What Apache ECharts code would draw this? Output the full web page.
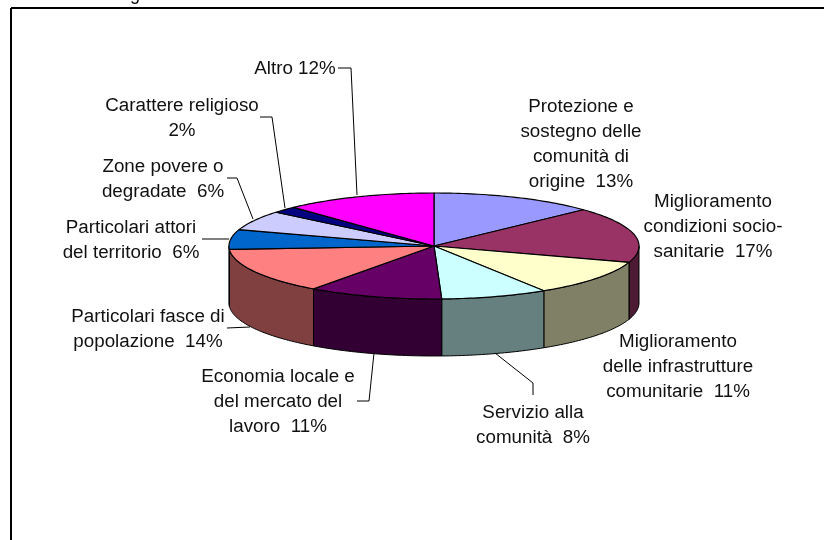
<!DOCTYPE html>
<html>
<head>
<meta charset="utf-8">
<style>
  html, body { margin: 0; padding: 0; background: #fff; }
  #chart { width: 824px; height: 540px; }
</style>
</head>
<body>
<div id="chart"></div>
<script src="https://cdn.jsdelivr.net/npm/echarts@6/dist/echarts.min.js"></script>
<script>
// Slices clockwise from 12 o'clock
const categories = [
  'Protezione e\nsostegno delle\ncomunità di\norigine  ',
  'Miglioramento\ncondizioni socio-\nsanitarie  ',
  'Miglioramento\ndelle infrastrutture\ncomunitarie  ',
  'Servizio alla\ncomunità  ',
  'Economia locale e\ndel mercato del\nlavoro  ',
  'Particolari fasce di\npopolazione  ',
  'Particolari attori\ndel territorio  ',
  'Zone povere o\ndegradate  ',
  'Carattere religioso\n',
  'Altro '
]
const values = [13, 17, 11, 8.4, 10.6, 14, 6, 6, 2, 12]
const colors = ['#9999FF', '#993366', '#FFFFCC', '#CCFFFF', '#660066', '#FF8080', '#0066CC', '#CCCCFF', '#000080', '#FF00FF']

// Layout of the tilted pie
const cx = 434
const cy = 246
const rx = 205
const ry = 53
const depth = 57
const font = '18.8px "Liberation Sans", Arial, sans-serif'

// Label centres and leader lines, same order as categories
const labelAt = [[581, 144], [713, 227], [678, 367], [533, 425], [278, 402], [148, 329], [131, 240], [163, 179], [182, 118], [295, 69]]
const leaders = [
  null, null, null,
  [[533, 395], [533, 383], [495, 353]],
  [[357, 401], [369, 401], [374, 353]],
  [[227, 328], [250, 327]],
  [[202, 239], [229, 239]],
  [[227, 178], [237, 178], [253, 219]],
  [[260, 117], [272, 117], [285, 208]],
  [[338, 68], [351, 68], [357, 195]]
]

const total = values.reduce((a, b) => a + b, 0)
const starts = []
values.reduce((acc, v, i) => {
  starts[i] = acc
  return acc + v
}, 0)

function angleOf(sum) {
  return sum / total * Math.PI * 2
}

function rimPoint(a, dy) {
  return [cx + rx * Math.sin(a), cy - ry * Math.cos(a) + dy]
}

function arcPoints(a0, a1, dy) {
  const n = Math.max(2, Math.ceil((a1 - a0) / 0.02))
  const pts = []
  for (let k = 0; k <= n; k++) pts.push(rimPoint(a0 + (a1 - a0) * k / n, dy))
  return pts
}

function halfColor(hex) {
  const n = parseInt(hex.slice(1), 16)
  const c = [n >> 16, (n >> 8) & 255, n & 255].map(x => Math.round(x / 2))
  return `rgb(${c[0]},${c[1]},${c[2]})`
}

// Wall of a slice, only the part on the near half of the rim
function renderSide(params) {
  const i = params.dataIndex
  const a0 = Math.max(angleOf(starts[i]), Math.PI / 2)
  const a1 = Math.min(angleOf(starts[i] + values[i]), Math.PI * 1.5)
  if (a1 <= a0) return null
  const points = arcPoints(a0, a1, 0).concat(arcPoints(a0, a1, depth).reverse())
  return {
    type: 'polygon',
    shape: { points },
    style: { fill: halfColor(colors[i]), stroke: '#000', lineWidth: 1 }
  }
}

function renderTop(params) {
  const i = params.dataIndex
  const a0 = angleOf(starts[i])
  const a1 = angleOf(starts[i] + values[i])
  return {
    type: 'polygon',
    shape: { points: [[cx, cy]].concat(arcPoints(a0, a1, 0)) },
    style: { fill: colors[i], stroke: '#000', lineWidth: 1.2, lineJoin: 'round' }
  }
}

function renderLabel(params) {
  const i = params.dataIndex
  const children = [{
    type: 'text',
    style: {
      text: categories[i] + Math.round(values[i]) + '%',
      x: labelAt[i][0],
      y: labelAt[i][1],
      align: 'center',
      verticalAlign: 'middle',
      font,
      lineHeight: 25,
      fill: '#111'
    }
  }]
  if (leaders[i]) {
    children.push({
      type: 'polyline',
      shape: { points: leaders[i] },
      style: { fill: 'none', stroke: '#000', lineWidth: 1 }
    })
  }
  return { type: 'group', children }
}

const chart = echarts.init(document.getElementById('chart'), null, { renderer: 'canvas' })
chart.setOption({
  backgroundColor: '#fff',
  animation: false,
  graphic: [
    { type: 'line', shape: { x1: 11, y1: 8, x2: 824, y2: 8 }, style: { stroke: '#000', lineWidth: 2 } },
    { type: 'line', shape: { x1: 11, y1: 8, x2: 11, y2: 540 }, style: { stroke: '#000', lineWidth: 2 } },
    { type: 'text', style: { text: 'g', x: 135, y: -14, align: 'center', font: '18px "Liberation Sans", Arial, sans-serif', fill: '#000' } }
  ],
  series: [
    { type: 'custom', coordinateSystem: 'none', silent: true, data: values, renderItem: renderSide, z: 2 },
    { type: 'custom', coordinateSystem: 'none', silent: true, data: values, renderItem: renderTop, z: 3 },
    { type: 'custom', coordinateSystem: 'none', silent: true, data: values, renderItem: renderLabel, z: 4 }
  ]
})
</script>
</body>
</html>
